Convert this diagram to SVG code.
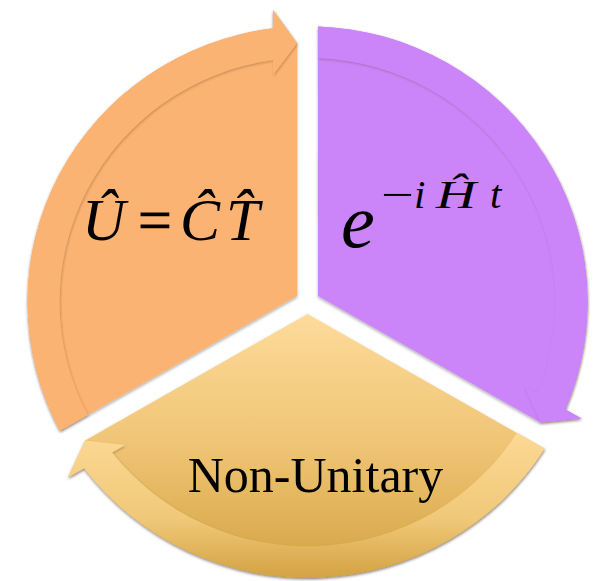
<svg xmlns="http://www.w3.org/2000/svg" width="596" height="581" viewBox="0 0 596 581">
<defs>
<style>
.m{font-family:"Liberation Serif","Times New Roman",serif;font-style:italic;fill:#000}
.r{font-family:"Liberation Serif","Times New Roman",serif;font-style:normal;fill:#000}
</style>
<filter id="sh" x="-10%" y="-10%" width="120%" height="120%">
<feDropShadow dx="0" dy="1.5" stdDeviation="1.5" flood-color="#000" flood-opacity="0.35"/>
</filter>
<filter id="bsh" x="-10%" y="-10%" width="120%" height="120%">
<feDropShadow dx="0.8" dy="1.2" stdDeviation="1" flood-color="#5a3008" flood-opacity="0.3"/>
</filter>
<linearGradient id="ybody" gradientUnits="userSpaceOnUse" x1="0" y1="12" x2="0" y2="270">
<stop offset="0" stop-color="#FDDB9A"/>
<stop offset="0.5" stop-color="#F0C576"/>
<stop offset="1" stop-color="#D5A545"/>
</linearGradient>
<linearGradient id="yband" gradientUnits="userSpaceOnUse" x1="0" y1="130" x2="0" y2="280">
<stop offset="0" stop-color="#FCD995"/>
<stop offset="0.6" stop-color="#F0C878"/>
<stop offset="1" stop-color="#D3A343"/>
</linearGradient>
<path id="ofull" d="M -10.5,-6.06 L -247.57,130.81 A 280 280 0 0 1 -34.5,-277.87 L -34.5,-296.5 L -10.5,-262.79 Z"/>
<path id="oband" d="M -247.57,130.81 A 280 280 0 0 1 -34.5,-277.87 L -34.5,-296.5 L -10.5,-262.79 L -34.5,-230.5 L -34.5,-245.59 A 248 248 0 0 0 -219.83,114.80 Z"/>
</defs>
<rect width="596" height="581" fill="#fff"/>

<g id="node-orange">
<g filter="url(#sh)"><use href="#ofull" transform="translate(307.5,302) scale(1,0.985)" fill="#FBB373"/></g>
<g filter="url(#bsh)"><use href="#oband" transform="translate(307.5,302) scale(1,0.985)" fill="#FBB373"/></g>
<text class="m" y="240" font-size="60"><tspan x="82">Û</tspan><tspan class="r" x="138" stroke="#000" stroke-width="0.8">=</tspan><tspan x="180">Ĉ</tspan><tspan x="226">T̂</tspan></text>
</g>

<g id="node-purple">
<g filter="url(#sh)"><use href="#ofull" transform="translate(307.5,302) scale(1,0.985) rotate(120)" fill="#CC85F8"/></g>
<g filter="url(#bsh)"><use href="#oband" transform="translate(307.5,302) scale(1,0.985) rotate(120)" fill="#CC85F8"/></g>
<text class="m" x="341" y="247" font-size="76">e</text>
<text class="r" x="381" y="208" font-size="40" textLength="33" lengthAdjust="spacingAndGlyphs">−</text>
<text class="m" x="414" y="208" font-size="41">i</text>
<text class="m" x="436" y="208" font-size="41" textLength="40" lengthAdjust="spacingAndGlyphs">Ĥ</text>
<text class="m" x="490" y="208" font-size="41">t</text>
</g>

<g id="node-yellow">
<g filter="url(#sh)"><path transform="translate(307.5,302) scale(1,0.985)" fill="url(#ybody)" d="M 0,12.12 L 237.07,148.99 A 280 280 0 0 1 -223.39,168.81 L -239.53,178.13 L -222.33,140.49 Z"/></g>
<g filter="url(#bsh)"><path transform="translate(307.5,302) scale(1,0.985)" fill="url(#yband)" d="M 237.07,148.99 A 280 280 0 0 1 -223.39,168.81 L -239.53,178.13 L -222.33,140.49 L -182.37,145.13 L -195.44,152.67 A 248 248 0 0 0 209.33,132.98 Z"/></g>
<text class="r" x="315.5" y="492" font-size="50" text-anchor="middle">Non-Unitary</text>
</g>

<g id="connectors"/>
</svg>
